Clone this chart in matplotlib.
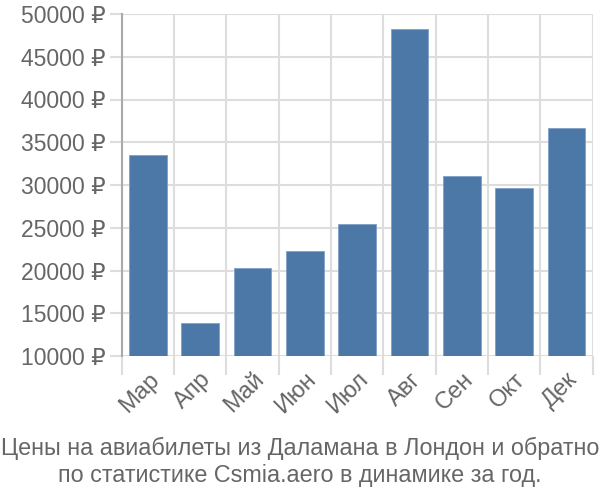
import numpy as np
import matplotlib
matplotlib.use('Agg')
import matplotlib.pyplot as plt

plt.rcParams['font.family'] = ['Liberation Sans', 'DejaVu Sans']

months = ['Мар', 'Апр', 'Май', 'Июн', 'Июл', 'Авг', 'Сен', 'Окт', 'Дек']
prices = [33500, 13900, 20300, 22300, 25400, 48300, 31100, 29700, 36700]
yticks = [10000, 15000, 20000, 25000, 30000, 35000, 40000, 45000, 50000]
title = 'Цены на авиабилеты из Даламана в Лондон и обратно\nпо статистике Csmia.aero в динамике за год.'

fig = plt.figure(figsize=(6, 5), dpi=100)
ax = fig.add_axes([0.203, 0.288, 0.785, 0.684])

x = np.arange(len(months))
ax.bar(x, prices, width=0.72, color='#4c78a8', edgecolor='#7fa0c6', linewidth=0.6, zorder=3)

ax.set_xlim(-0.5, len(months) - 0.5)
ax.set_ylim(10000, 50000)

ax.set_yticks(yticks)
ax.set_yticklabels([f'{v} ₽' for v in yticks])
ax.set_xticks(x)
ax.set_xticklabels(months, rotation=45, ha='right', rotation_mode='anchor')
ax.set_xticks(np.arange(len(months) + 1) - 0.5, minor=True)

ax.tick_params(axis='x', which='major', length=0, pad=9, labelsize=17, labelcolor='#666666')
ax.tick_params(axis='x', which='minor', length=14, width=1.5, color='#dddddd')
ax.tick_params(axis='y', length=9, width=1.5, color='#dddddd', labelsize=16.5, labelcolor='#666666', pad=3)

ax.grid(axis='y', color='#dddddd', linewidth=1.5, zorder=0)
ax.grid(axis='x', which='minor', color='#dddddd', linewidth=1.5, zorder=0)

for s in ['top', 'right', 'bottom']:
    ax.spines[s].set_visible(False)
ax.spines['left'].set_color('#aaaaaa')
ax.spines['left'].set_linewidth(1.5)

fig.text(0.5, 0.076, title, ha='center', va='center', fontsize=16.8, color='#666666', linespacing=1.25)

fig.savefig('out.png', dpi=100)
